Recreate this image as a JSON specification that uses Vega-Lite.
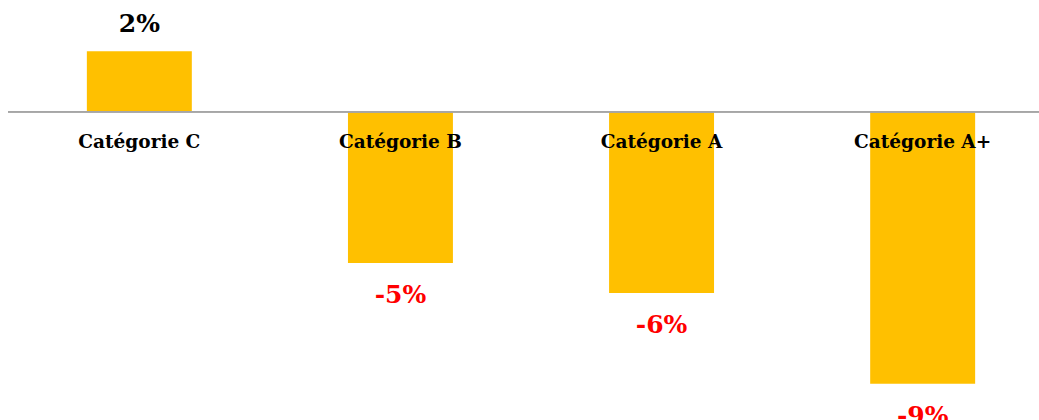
{
  "$schema": "https://vega.github.io/schema/vega-lite/v6.json",
  "width": 1046,
  "height": 420,
  "autosize": {"type": "none"},
  "padding": {"left": 8, "top": 0, "right": 0, "bottom": 0},
  "background": "white",
  "config": {"view": {"stroke": null}},
  "data": {"values": [
    {"cat": "Catégorie C", "v": 0.02},
    {"cat": "Catégorie B", "v": -0.05},
    {"cat": "Catégorie A", "v": -0.06},
    {"cat": "Catégorie A+", "v": -0.09}
  ]},
  "transform": [{"calculate": "replace(format(datum.v, '.0%'), '\u2212', '-')", "as": "lab"}],
  "encoding": {
    "x": {"field": "cat", "type": "nominal", "sort": null,
          "scale": {"paddingInner": 0.598, "paddingOuter": 0.302},
          "axis": null},
    "y": {"field": "v", "type": "quantitative",
          "scale": {"domain": [-0.102, 0.037], "nice": false, "zero": false},
          "axis": null}
  },
  "layer": [
    {"mark": {"type": "bar", "color": "#FFC000"}},
    {"mark": {"type": "rule", "color": "#a6a6a6", "strokeWidth": 1.5},
     "encoding": {"y": {"datum": 0}, "x": null}},
    {"mark": {"type": "text", "font": "DejaVu Serif", "fontWeight": "bold", "fontSize": 18.5, "baseline": "middle", "dy": 30, "color": "black"},
     "encoding": {"y": {"datum": 0}, "text": {"field": "cat"}}},
    {"transform": [{"filter": "datum.v >= 0"}],
     "mark": {"type": "text", "font": "DejaVu Serif", "fontWeight": "bold", "fontSize": 25, "baseline": "middle", "dy": -27, "color": "black"},
     "encoding": {"text": {"field": "lab"}}},
    {"transform": [{"filter": "datum.v < 0"}],
     "mark": {"type": "text", "font": "DejaVu Serif", "fontWeight": "bold", "fontSize": 25, "baseline": "middle", "dy": 32, "color": "#FF0000"},
     "encoding": {"text": {"field": "lab"}}}
  ]
}
